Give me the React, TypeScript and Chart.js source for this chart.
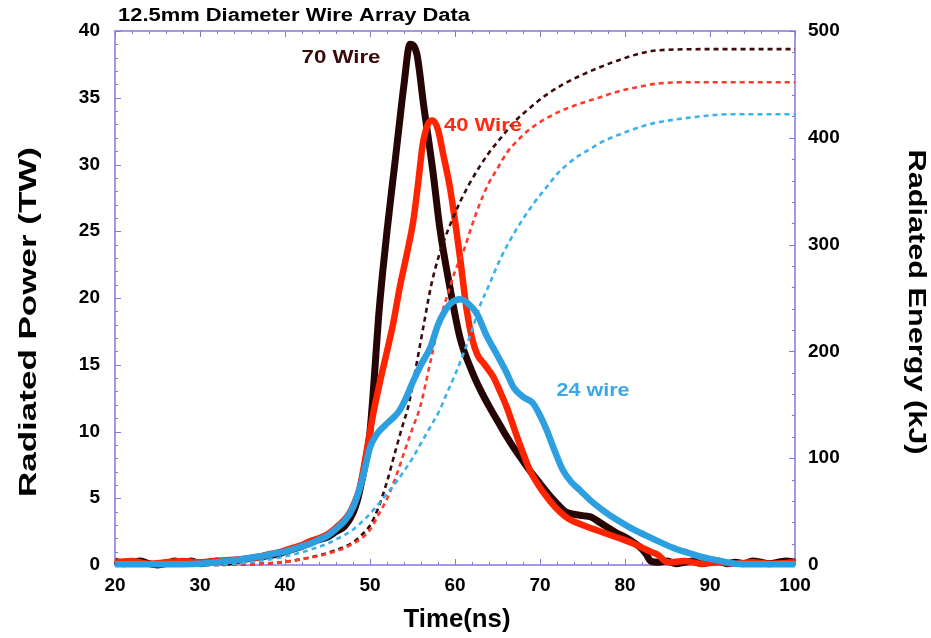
import React, { useEffect, useRef } from 'react';
import { Chart, registerables } from 'chart.js';

Chart.register(...registerables);

// ---------- data ----------
const titleText = '12.5mm Diameter Wire Array Data';
const xTitle = 'Time(ns)';
const yTitle = 'Radiated Power (TW)';
const y2Title = 'Radiated Energy (kJ)';
const label70 = '70 Wire';
const label40 = '40 Wire';
const label24 = '24 wire';

// 70 wire radiated power (TW)
const power70T = [20, 21, 22, 23, 24, 25, 26, 27, 28, 29, 30, 31, 32, 33, 34, 35, 36, 37, 38, 39, 40, 41, 42, 43, 44, 45, 46, 47, 48, 48.5, 49, 49.5, 50, 50.5, 51, 51.5, 52, 52.5, 53, 53.5, 54, 54.7, 55.5, 56.3, 57.4, 58.2, 59.4, 60.6, 62, 63, 64, 65, 66, 67, 68, 69, 70, 71, 72, 73, 74, 75, 76, 77, 78, 79, 80, 81, 82, 82.5, 83, 84, 85, 86, 87, 88, 89, 90, 91, 92, 93, 94, 95, 96, 97, 98, 99, 100];
const power70 = [0.3, 0.1, 0.2, 0.3, 0.1, 0.0, 0.1, 0.3, 0.2, 0.3, 0.1, 0.2, 0.3, 0.2, 0.3, 0.4, 0.5, 0.6, 0.7, 0.8, 1.0, 1.2, 1.4, 1.7, 1.9, 2.1, 2.5, 2.9, 3.9, 4.8, 6.2, 7.8, 10.0, 14.0, 18.5, 22.0, 25.0, 27.8, 30.5, 33.3, 36.0, 39.0, 38.3, 34.5, 29.5, 25.3, 20.8, 17.0, 14.5, 13.1, 11.9, 10.8, 9.7, 8.7, 7.8, 6.9, 6.1, 5.3, 4.6, 4.0, 3.8, 3.7, 3.6, 3.2, 2.8, 2.4, 2.1, 1.7, 1.2, 0.8, 0.3, 0.2, 0.3, 0.1, 0.2, 0.3, 0.1, 0.2, 0.3, 0.1, 0.2, 0.1, 0.3, 0.2, 0.1, 0.2, 0.3, 0.2];

// 40 wire radiated power (TW)
const power40T = [20, 22, 24, 26, 28, 30, 32, 34, 36, 37, 38, 39, 40, 41, 42, 43, 44, 45, 46, 47, 47.6, 48.2, 48.8, 49.6, 50.4, 51.2, 52, 52.7, 53.5, 54.3, 55.1, 55.7, 56.2, 56.8, 57.4, 58, 58.6, 59.4, 60, 60.6, 61.4, 62, 62.6, 63.5, 64.5, 65.3, 66.1, 67.3, 68, 68.8, 69.8, 70.8, 72, 73.5, 75, 76.7, 78, 79.8, 81, 82, 83, 84, 84.5, 85, 87, 89, 91, 93, 95, 97, 100];
const power40 = [0.2, 0.3, 0.1, 0.2, 0.3, 0.2, 0.3, 0.4, 0.5, 0.6, 0.8, 0.9, 1.1, 1.3, 1.5, 1.8, 2.0, 2.3, 2.8, 3.4, 3.9, 4.7, 5.8, 8.5, 11.4, 13.8, 16.0, 18.0, 20.8, 23.2, 25.8, 28.8, 31.5, 33.0, 33.3, 32.6, 30.8, 28.3, 25.8, 23.0, 19.0, 17.0, 15.8, 15.0, 14.1, 13.0, 11.8, 9.6, 8.4, 7.1, 6.0, 5.1, 4.2, 3.4, 3.0, 2.6, 2.3, 1.9, 1.6, 1.3, 1.0, 0.7, 0.4, 0.2, 0.3, 0.1, 0.2, 0.1, 0.2, 0.1, 0.2];

// 24 wire radiated power (TW)
const power24T = [20, 25, 30, 31, 32, 33, 34, 35, 36, 37, 38, 39, 40, 41, 42, 43, 44, 45, 46, 47, 48, 49, 49.5, 50, 50.6, 51.2, 52, 53, 53.5, 54.3, 55.1, 56, 57.1, 58, 58.6, 59.5, 60.6, 61.5, 62.6, 63.7, 64.9, 66, 66.9, 68, 69.2, 70, 70.8, 71.7, 72.7, 73.7, 74.7, 76, 77.4, 79, 80.6, 82.5, 84.5, 86, 87.5, 89, 90.5, 92, 93, 95, 100];
const power24 = [0.05, 0.05, 0.1, 0.15, 0.2, 0.3, 0.35, 0.45, 0.55, 0.65, 0.75, 0.9, 1.0, 1.2, 1.4, 1.6, 1.9, 2.2, 2.7, 3.3, 4.3, 6.2, 7.5, 8.8, 9.6, 10.1, 10.6, 11.2, 11.6, 12.6, 13.8, 15.0, 16.3, 18.0, 18.8, 19.6, 19.9, 19.6, 18.8, 17.2, 15.8, 14.5, 13.3, 12.6, 12.1, 11.2, 10.1, 8.6, 7.1, 6.2, 5.6, 4.8, 4.1, 3.4, 2.8, 2.2, 1.6, 1.2, 0.9, 0.6, 0.4, 0.2, 0.1, 0.05, 0.05];

// 70 wire radiated energy (kJ)
const energy70T = [20, 30, 35, 38, 40, 42, 44, 46, 47, 48, 49, 50, 51, 52, 53, 54, 54.4, 55.1, 56.3, 57.2, 58.2, 59.4, 60.6, 61.7, 62.9, 64, 65.3, 67, 68.8, 70.7, 72.7, 74.7, 76.7, 79, 81.8, 84, 90, 100];
const energy70 = [0, 0, 0.5, 1.5, 3, 5.5, 9, 14, 17, 21, 28, 37, 54, 78, 107, 135, 145, 172, 224, 262, 292, 318, 340, 357, 373, 386, 399, 415, 428, 440, 450, 458, 465, 472, 479, 482, 483, 483];

// 40 wire radiated energy (kJ)
const energy40T = [20, 30, 35, 38, 40, 42, 44, 46, 47, 48, 49, 50, 51.2, 52, 53.2, 54, 55, 55.9, 57.1, 58, 59, 60, 61, 62, 62.9, 64, 64.9, 66.1, 67.3, 68.8, 70.7, 72.7, 74.7, 76.7, 79, 81.8, 84, 88, 100];
const energy40 = [0, 0, 0.5, 1.5, 3, 5.5, 8.5, 13, 16, 20, 25, 33, 50, 62, 86, 105, 128, 148, 190, 222, 250, 275, 294, 318, 338, 358, 370, 386, 397, 408, 418, 426, 432, 437, 443, 448, 451, 452, 452];

// 24 wire radiated energy (kJ)
const energy24T = [20, 30, 33, 35, 38, 40, 42, 44, 45, 46, 47, 48, 49, 50, 51, 52, 53.2, 54, 55, 56, 57, 58.2, 59, 60, 61, 62, 62.9, 64, 65.3, 66.9, 68, 69.2, 70.8, 72, 73.2, 74.7, 76, 77, 79, 81, 83, 85, 88.8, 92, 100];
const energy24 = [0, 0.5, 1, 2, 5, 8, 12, 17, 20, 24, 28, 33, 40, 48, 57, 67, 79, 88, 100, 114, 128, 145, 160, 178, 198, 220, 242, 262, 286, 310, 324, 338, 354, 366, 375, 384, 390, 395, 402, 408, 413, 416, 420, 422, 422];

// ---------- styles ----------
const FONT = '"Liberation Sans", Arial, Helvetica, sans-serif';
const AXIS_COLOR = '#8676dc';
const C70 = '#260505';
const C40 = '#ff2400';
const C24 = '#2c9fe0';
const C70D = '#3c0c0c';
const C40D = '#ff3b2e';
const C24D = '#3ab2ee';

const pts = (t: number[], v: number[]) => t.map((x, i) => ({ x, y: v[i] }));

function drawFit(ctx: CanvasRenderingContext2D, text: string, cx: number, cy: number, size: number, width: number, rot: number, color: string) {
  ctx.save();
  ctx.font = `bold ${size}px ${FONT}`;
  const w = ctx.measureText(text).width;
  ctx.translate(cx, cy);
  ctx.rotate(rot);
  ctx.scale(width / w, 1);
  ctx.fillStyle = color;
  ctx.textAlign = 'center';
  ctx.textBaseline = 'middle';
  ctx.fillText(text, 0, 0);
  ctx.restore();
}

const framePlugin = {
  id: 'frame',
  beforeDatasetsDraw(chart: any) {
    const { ctx, chartArea: a, scales } = chart;
    ctx.save();
    ctx.strokeStyle = AXIS_COLOR;
    ctx.lineWidth = 1;
    const xs = scales.x;
    for (let v = 20; v <= 100; v += 2) {
      const px = Math.round(xs.getPixelForValue(v)) + 0.5;
      const len = v % 10 === 0 ? 6 : 3;
      ctx.beginPath();
      ctx.moveTo(px, a.bottom); ctx.lineTo(px, a.bottom - len);
      ctx.moveTo(px, a.top); ctx.lineTo(px, a.top + len);
      ctx.stroke();
    }
    const ys = scales.y;
    for (let v = 0; v <= 40; v += 1) {
      const py = Math.round(ys.getPixelForValue(v)) + 0.5;
      const len = v % 5 === 0 ? 6 : 3;
      ctx.beginPath();
      ctx.moveTo(a.left, py); ctx.lineTo(a.left + len, py);
      ctx.stroke();
    }
    const y2 = scales.y2;
    for (let v = 0; v <= 500; v += 20) {
      const py = Math.round(y2.getPixelForValue(v)) + 0.5;
      const len = v % 100 === 0 ? 6 : 3;
      ctx.beginPath();
      ctx.moveTo(a.right, py); ctx.lineTo(a.right - len, py);
      ctx.stroke();
    }
    ctx.lineWidth = 1.5;
    ctx.strokeRect(a.left, a.top, a.right - a.left, a.bottom - a.top);
    ctx.restore();
  },
  afterDraw(chart: any) {
    const ctx = chart.ctx;
    drawFit(ctx, titleText, 294, 16, 18, 352, 0, '#000');
    drawFit(ctx, xTitle, 457, 620, 26, 107, 0, '#000');
    drawFit(ctx, yTitle, 29, 322, 24, 350, -Math.PI / 2, '#000');
    drawFit(ctx, y2Title, 916, 302, 24, 305, Math.PI / 2, '#000');
    drawFit(ctx, label70, 341, 58, 19, 79, 0, '#3a0a0a');
    drawFit(ctx, label40, 483, 126, 19, 78, 0, '#ff2a10');
    drawFit(ctx, label24, 593, 391, 19, 73, 0, '#3aa8e6');
  },
};

export default function App() {
  const ref = useRef<HTMLCanvasElement>(null);
  useEffect(() => {
    if (!ref.current) return;
    const tickFont = { family: FONT, size: 19, weight: 'bold' as const };
    const solid = (label: string, t: number[], v: number[], color: string, w: number) => ({
      label, data: pts(t, v), yAxisID: 'y', borderColor: color, backgroundColor: color,
      borderWidth: w, pointRadius: 0, cubicInterpolationMode: 'monotone' as const, clip: 6,
    });
    const dashed = (label: string, t: number[], v: number[], color: string) => ({
      label, data: pts(t, v), yAxisID: 'y2', borderColor: color, backgroundColor: color,
      borderWidth: 2.6, borderDash: [5, 4], pointRadius: 0, cubicInterpolationMode: 'monotone' as const, clip: 6,
    });
    const chart = new Chart(ref.current, {
      type: 'line',
      data: {
        datasets: [
          solid('24 wire power', power24T, power24, C24, 6.5),
          dashed('24 wire energy', energy24T, energy24, C24D),
          dashed('40 wire energy', energy40T, energy40, C40D),
          dashed('70 wire energy', energy70T, energy70, C70D),
          solid('40 wire power', power40T, power40, C40, 6.5),
          solid('70 wire power', power70T, power70, C70, 7),
        ],
      },
      options: {
        responsive: false,
        animation: false,
        layout: { padding: { top: 31, left: 0, right: 0, bottom: 0 } },
        plugins: { legend: { display: false }, tooltip: { enabled: false }, title: { display: false } },
        scales: {
          x: {
            type: 'linear', min: 20, max: 100,
            ticks: { stepSize: 10, font: tickFont, color: '#000', padding: 9, maxRotation: 0 },
            grid: { display: false, drawTicks: false }, border: { display: false },
            afterFit: (s: any) => { s.height = 73; },
          },
          y: {
            type: 'linear', position: 'left', min: 0, max: 40,
            ticks: { stepSize: 5, font: tickFont, color: '#000', padding: 15 },
            grid: { display: false, drawTicks: false }, border: { display: false },
            afterFit: (s: any) => { s.width = 115; },
          },
          y2: {
            type: 'linear', position: 'right', min: 0, max: 500,
            ticks: { stepSize: 100, font: tickFont, color: '#000', padding: 13 },
            grid: { display: false, drawTicks: false }, border: { display: false },
            afterFit: (s: any) => { s.width = 136; },
          },
        },
      },
      plugins: [framePlugin],
    });
    return () => chart.destroy();
  }, []);
  return (
    <div style={{ position: 'absolute', left: 0, top: 0, width: 931, height: 638, background: '#fff' }}>
      <canvas ref={ref} width={931} height={638} />
    </div>
  );
}
